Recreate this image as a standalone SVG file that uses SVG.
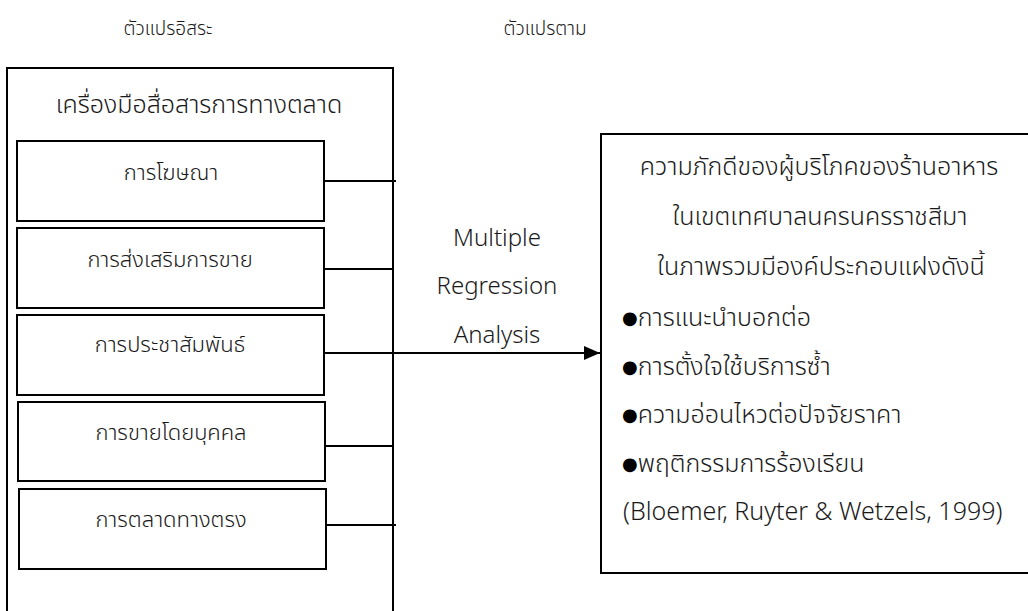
<svg xmlns="http://www.w3.org/2000/svg" width="1028" height="611" viewBox="0 0 1028 611">
<style>
  .box { fill: #ffffff; stroke: #000000; stroke-width: 2; }
  .line { stroke: #000000; stroke-width: 2; fill: none; }
  text { font-family: "Noto Sans Thai", "Noto Sans", "DejaVu Sans", sans-serif; font-weight: 300; fill: #1a1a1a; }
  .hdr { font-size: 19px; text-anchor: middle; }
  .title { font-size: 25px; text-anchor: middle; }
  .lbl { font-size: 22px; text-anchor: middle; }
  .mid { font-size: 24px; text-anchor: middle; }
  .rt { font-size: 25px; }
  .rtc { font-size: 25px; text-anchor: middle; }
  .cite { font-size: 25px; }
  .dot { font-size: 18px; font-weight: 400; fill: #000000; }
</style>
<defs>
  <marker id="arrow" markerUnits="userSpaceOnUse" markerWidth="16" markerHeight="14" refX="16" refY="7" orient="auto">
    <path d="M0,0 L16,7 L0,14 z" fill="#000000"/>
  </marker>
</defs>
<rect width="1028" height="611" fill="#ffffff"/>

<g id="headers">
  <text class="hdr" x="168" y="35">ตัวแปรอิสระ</text>
  <text class="hdr" x="545" y="35">ตัวแปรตาม</text>
</g>

<g id="independent">
  <rect class="box" x="7" y="68" width="386" height="560"/>
  <text class="title" x="199" y="113">เครื่องมือสื่อสารการทางตลาด</text>
</g>

<g id="n1">
  <rect class="box" x="17" y="141" width="307" height="80"/>
  <text class="lbl" x="171" y="180">การโฆษณา</text>
</g>
<g id="n2">
  <rect class="box" x="17" y="228" width="307" height="80"/>
  <text class="lbl" x="170" y="267">การส่งเสริมการขาย</text>
</g>
<g id="n3">
  <rect class="box" x="17" y="315" width="307" height="80"/>
  <text class="lbl" x="170" y="352">การประชาสัมพันธ์</text>
</g>
<g id="n4">
  <rect class="box" x="18" y="402" width="307" height="79"/>
  <text class="lbl" x="171" y="440">การขายโดยบุคคล</text>
</g>
<g id="n5">
  <rect class="box" x="19" y="489" width="307" height="80"/>
  <text class="lbl" x="171" y="527">การตลาดทางตรง</text>
</g>

<g id="connectors">
  <line class="line" x1="324" y1="181" x2="396" y2="181"/>
  <line class="line" x1="324" y1="269" x2="393" y2="269"/>
  <line class="line" x1="324" y1="353" x2="600" y2="353" marker-end="url(#arrow)"/>
  <line class="line" x1="325" y1="446" x2="393" y2="446"/>
  <line class="line" x1="326" y1="525" x2="396" y2="525"/>
</g>

<g id="method">
  <text class="mid" x="497" y="246">Multiple</text>
  <text class="mid" x="497" y="294">Regression</text>
  <text class="mid" x="497" y="343">Analysis</text>
</g>

<g id="dependent">
  <rect class="box" x="601" y="134" width="440" height="439"/>
  <text class="rtc" x="819" y="175">ความภักดีของผู้บริโภคของร้านอาหาร</text>
  <text class="rtc" x="820" y="225">ในเขตเทศบาลนครนครราชสีมา</text>
  <text class="rtc" x="821" y="275">ในภาพรวมมีองค์ประกอบแฝงดังนี้</text>
  <text class="rt" x="622" y="326"><tspan class="dot" dy="-2">●</tspan><tspan dy="2">การแนะนำบอกต่อ</tspan></text>
  <text class="rt" x="622" y="375"><tspan class="dot" dy="-2">●</tspan><tspan dy="2">การตั้งใจใช้บริการซ้ำ</tspan></text>
  <text class="rt" x="622" y="423"><tspan class="dot" dy="-2">●</tspan><tspan dy="2">ความอ่อนไหวต่อปัจจัยราคา</tspan></text>
  <text class="rt" x="622" y="472"><tspan class="dot" dy="-2">●</tspan><tspan dy="2">พฤติกรรมการร้องเรียน</tspan></text>
  <text class="cite" x="623" y="520">(Bloemer, Ruyter &amp; Wetzels, 1999)</text>
</g>
</svg>
